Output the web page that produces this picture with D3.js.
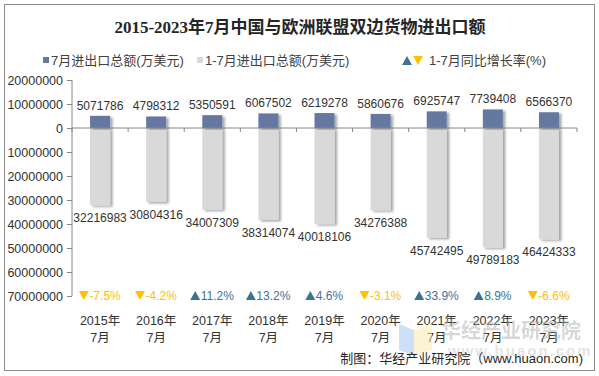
<!DOCTYPE html>
<html>
<head>
<meta charset="utf-8">
<script src="https://cdn.jsdelivr.net/npm/d3@7"></script>
<style>
  body { margin: 0; background: #fff; }
  text { font-family: "Liberation Sans", Arial, "Noto Sans CJK SC", sans-serif; }
</style>
</head>
<body>
<div id="chart"></div>
<script>
// chart data
var years = ["2015年", "2016年", "2017年", "2018年", "2019年", "2020年", "2021年", "2022年", "2023年"];
var julyTotal = [5071786, 4798312, 5350591, 6067502, 6219278, 5860676, 6925747, 7739408, 6566370];
var ytdTotal = [32216983, 30804316, 34007309, 38314074, 40018106, 34276388, 45742495, 49789183, 46424333];
var growth = [-7.5, -4.2, 11.2, 13.2, 4.6, -3.1, 33.9, 8.9, -6.6];
var yTicks = [20000000, 10000000, 0, -10000000, -20000000, -30000000, -40000000, -50000000, -60000000, -70000000];

var w = 599, h = 376;
var colors = { july: "#6579a0", ytd: "#d9d9d9", up: "#3d7294", down: "#ffc000", text: "#333333", axis: "#868686" };

// small triangle path, pointing up or down, centred at 0,0
function tri(up, s) {
  return up ? "M0," + (-s * 0.5) + "L" + (s * 0.55) + "," + (s * 0.5) + "L" + (-s * 0.55) + "," + (s * 0.5) + "Z"
            : "M0," + (s * 0.5) + "L" + (s * 0.55) + "," + (-s * 0.5) + "L" + (-s * 0.55) + "," + (-s * 0.5) + "Z";
}

var svg = d3.select("#chart").append("svg")
  .attr("width", w)
  .attr("height", h);

// soft shadow behind the bars
var defs = svg.append("defs");
defs.append("filter").attr("id", "shadow")
  .attr("x", "-30%").attr("y", "-10%").attr("width", "160%").attr("height", "120%")
  .append("feDropShadow")
  .attr("dx", 2.5).attr("dy", 1.5).attr("stdDeviation", 1.3)
  .attr("flood-color", "#000").attr("flood-opacity", 0.35);

// outer frame
svg.append("rect")
  .attr("x", 4.5).attr("y", 4.5)
  .attr("width", 590).attr("height", 366)
  .attr("fill", "#fff").attr("stroke", "#8c8c8c");

// title
svg.append("text")
  .attr("x", 300).attr("y", 33)
  .attr("text-anchor", "middle")
  .style("font-family", "'Liberation Serif', 'Noto Sans CJK SC', serif")
  .style("font-size", "17px").style("font-weight", "bold")
  .attr("fill", "#262626")
  .text("2015-2023年7月中国与欧洲联盟双边货物进出口额");

// legend
var lg = svg.append("g").style("font-size", "13px").attr("fill", "#404040");
lg.append("rect").attr("x", 43).attr("y", 57).attr("width", 6).attr("height", 6).attr("fill", colors.july);
lg.append("text").attr("x", 51).attr("y", 65).text("7月进出口总额(万美元)");
lg.append("rect").attr("x", 197).attr("y", 57).attr("width", 6).attr("height", 6).attr("fill", colors.ytd);
lg.append("text").attr("x", 205).attr("y", 65).text("1-7月进出口总额(万美元)");
lg.append("path").attr("transform", "translate(407,60.5)").attr("d", tri(true, 9)).attr("fill", colors.up);
lg.append("path").attr("transform", "translate(418,60.5)").attr("d", tri(false, 9)).attr("fill", colors.down);
lg.append("text").attr("x", 429).attr("y", 65).text("1-7月同比增长率(%)");

// scales
var x = d3.scaleBand().domain(years).range([72, 577]).paddingInner(0).paddingOuter(0);
var y = d3.scaleLinear().domain([-70000000, 20000000]).range([296, 80]);
var bw = 20;

// y axis, negative side shown as absolute values
var yAxis = svg.append("g")
  .attr("transform", "translate(72,0)")
  .call(d3.axisLeft(y).tickValues(yTicks).tickSize(5).tickPadding(4)
    .tickFormat(function(d) { return String(Math.abs(d)); }));
yAxis.select(".domain").attr("stroke", colors.axis).attr("d", "M0," + y(20000000) + "V" + y(-70000000));
yAxis.selectAll(".tick line").attr("stroke", colors.axis).attr("x1", -5).attr("x2", 0);
yAxis.selectAll(".tick text").attr("fill", colors.text).style("font-size", "12.5px")
  .style("font-family", "'Liberation Sans', Arial, sans-serif");

// bars: 1-7 month total drawn downward, July total upward
svg.selectAll(".ytd").data(ytdTotal).enter().append("rect")
  .attr("class", "ytd")
  .attr("x", function(d, i) { return x(years[i]) + x.bandwidth() / 2 - bw / 2; })
  .attr("y", y(0))
  .attr("width", bw)
  .attr("height", function(d) { return y(-d) - y(0); })
  .attr("fill", colors.ytd)
  .attr("filter", "url(#shadow)");

svg.selectAll(".july").data(julyTotal).enter().append("rect")
  .attr("class", "july")
  .attr("x", function(d, i) { return x(years[i]) + x.bandwidth() / 2 - bw / 2; })
  .attr("y", function(d) { return y(d); })
  .attr("width", bw)
  .attr("height", function(d) { return y(0) - y(d); })
  .attr("fill", colors.july)
  .attr("filter", "url(#shadow)");

// zero line with category ticks
var xAxis = svg.append("g")
  .attr("transform", "translate(0," + y(0) + ")");
xAxis.append("line").attr("x1", 72).attr("x2", 577).attr("stroke", colors.axis);
xAxis.selectAll(".xt").data(d3.range(years.length + 1)).enter().append("line")
  .attr("x1", function(i) { return 72 + i * x.step(); })
  .attr("x2", function(i) { return 72 + i * x.step(); })
  .attr("y1", 0).attr("y2", 4)
  .attr("stroke", colors.axis);

// value labels
svg.selectAll(".jl").data(julyTotal).enter().append("text")
  .attr("x", function(d, i) { return x(years[i]) + x.bandwidth() / 2; })
  .attr("y", function(d) { return y(d) - 6; })
  .attr("text-anchor", "middle")
  .style("font-size", "12px").attr("fill", colors.text)
  .text(function(d) { return d; });

svg.selectAll(".yl").data(ytdTotal).enter().append("text")
  .attr("x", function(d, i) { return x(years[i]) + x.bandwidth() / 2; })
  .attr("y", function(d) { return y(-d) + 17; })
  .attr("text-anchor", "middle")
  .style("font-size", "12px").attr("fill", colors.text)
  .text(function(d) { return d; });

// growth rate labels along the bottom: triangle marker + text, centred on the category
growth.forEach(function(d, i) {
  var cx = x(years[i]) + x.bandwidth() / 2;
  var col = d < 0 ? colors.down : colors.up;
  var g = svg.append("g");
  var t = g.append("text")
    .attr("y", 300)
    .style("font-size", "12px")
    .attr("fill", col)
    .text(d.toFixed(1) + "%");
  var tw = t.node().getComputedTextLength();
  var total = 10 + tw;
  t.attr("x", cx - total / 2 + 10);
  g.append("path")
    .attr("transform", "translate(" + (cx - total / 2 + 4.5) + ",295.5)")
    .attr("d", tri(d >= 0, 9))
    .attr("fill", col);
});

// category labels, two lines
var cat = svg.selectAll(".cl").data(years).enter().append("text")
  .attr("text-anchor", "middle")
  .style("font-size", "12.5px").attr("fill", colors.text);
cat.append("tspan")
  .attr("x", function(d) { return x(d) + x.bandwidth() / 2; })
  .attr("y", 325)
  .text(function(d) { return d; });
cat.append("tspan")
  .attr("x", function(d) { return x(d) + x.bandwidth() / 2; })
  .attr("y", 342)
  .text("7月");

// watermark
var wm = svg.append("g").attr("opacity", 0.5);
wm.append("path").attr("d", "M399,324 L414,330 L414,356 L399,350 Z").attr("fill", "#9cc3f5");
wm.append("path").attr("d", "M414,330 L432,324 L432,350 L414,356 Z").attr("fill", "#fbe9a6");
wm.append("text").attr("x", 441).attr("y", 338)
  .style("font-size", "20px").style("font-weight", "bold")
  .style("font-family", "'Noto Sans CJK SC', sans-serif")
  .attr("fill", "#b0b0b0").text("华经产业研究院");
wm.append("text").attr("x", 448).attr("y", 356)
  .style("font-size", "15px").style("font-weight", "bold")
  .attr("fill", "#c8c8c8").attr("letter-spacing", "2").text("www.huaon.com");

// source note
svg.append("text")
  .attr("x", 583).attr("y", 363)
  .attr("text-anchor", "end")
  .style("font-size", "13px").attr("fill", "#262626")
  .text("制图：华经产业研究院（www.huaon.com)");
</script>
</body>
</html>
